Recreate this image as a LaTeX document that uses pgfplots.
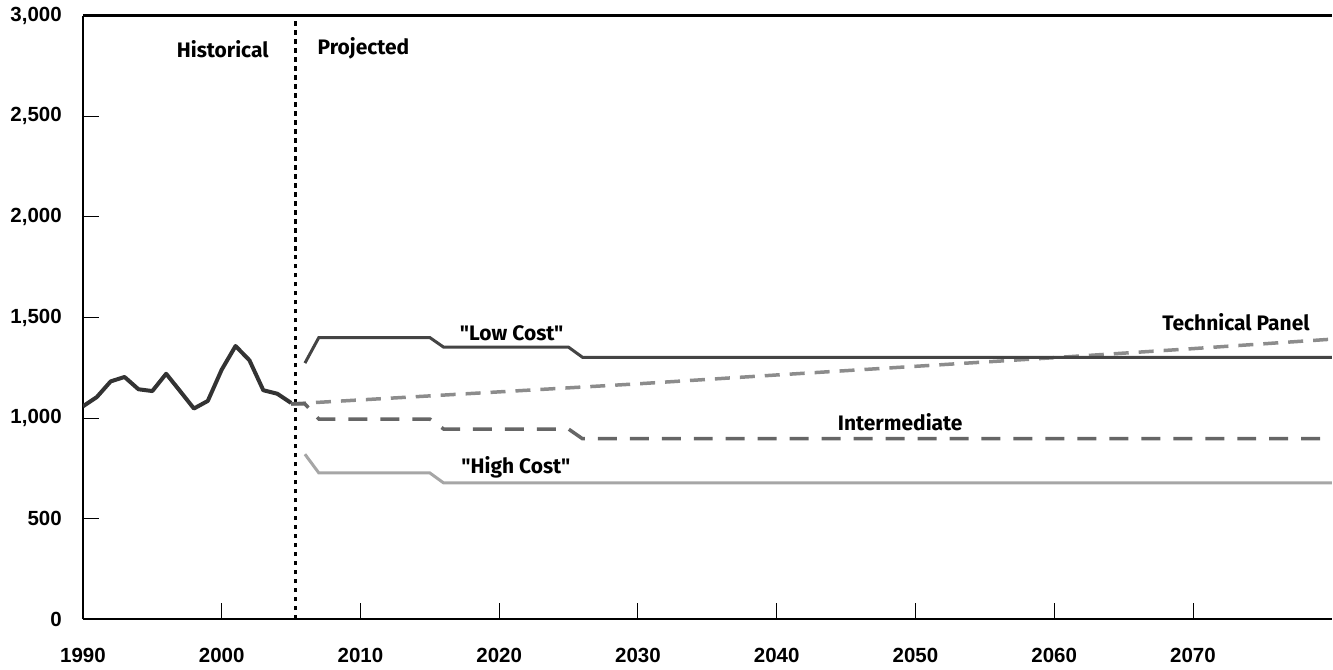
\documentclass[border=0pt]{standalone}
\usepackage{fontspec}
\setmainfont{Fira Sans}[Ligatures=TeXOff]
\newfontfamily\tickfont{Liberation Sans}[Ligatures=TeXOff]
\usepackage{pgfplots}
\pgfplotsset{compat=1.18}
\definecolor{histcol}{HTML}{333333}
\definecolor{lowcol}{HTML}{444444}
\definecolor{intercol}{HTML}{666666}
\definecolor{techcol}{HTML}{8C8C8C}
\definecolor{highcol}{HTML}{A6A6A6}
\begin{document}
\fontsize{21}{25}\selectfont
\begin{tikzpicture}
\begin{axis}[
  scale only axis, width=1250pt, height=604pt,
  xmin=1990, xmax=2080, ymin=0, ymax=3000,
  axis lines=left, axis line style={-, line width=2.5pt, black},
  clip mode=individual,
  xtick={1990,2000,...,2070},
  ytick={0,500,...,3000},
  tick align=inside,
  major tick length=16pt,
  tick style={line width=1pt, black},
  /pgf/number format/assume math mode=true,
  tick label style={font=\tickfont\fontsize{20.5}{24}\selectfont\bfseries},
  xticklabel style={/pgf/number format/1000 sep={}, yshift=-22pt},
  yticklabel style={/pgf/number format/.cd, fixed, 1000 sep={,}, /tikz/.cd, xshift=-14pt},
]
% top axis line
\draw[line width=2.5pt, black] (rel axis cs:0,1) -- (rel axis cs:1,1);
% bounding box
\path ([xshift=-83pt,yshift=-46pt]rel axis cs:0,0) rectangle ([yshift=15pt]rel axis cs:1,1);

% divider
\addplot[black, line width=3.2pt, dash pattern=on 4.5pt off 4.5pt] coordinates {(2005.3,0) (2005.3,3000)};

% Historical
\addplot[histcol, line width=4pt, line join=round] coordinates {
(1990,1058) (1991,1104) (1992,1182) (1993,1204) (1994,1143) (1995,1134)
(1996,1220) (1997,1134) (1998,1047) (1999,1085) (2000,1240) (2001,1358)
(2002,1287) (2003,1138) (2004,1121) (2005,1075)};

% Technical Panel
\addplot[techcol, line width=3.5pt, dash pattern=on 15pt off 10pt] coordinates {
(2005,1070) (2010,1090) (2020,1130) (2030,1170) (2040,1214) (2050,1257)
(2060,1300) (2070,1345) (2080,1392)};

% Intermediate
\addplot[intercol, line width=3.5pt, dash pattern=on 19pt off 13pt] coordinates {
(2005,1070) (2006,1070) (2007,995) (2015,995) (2016,945) (2025,945)
(2026,897) (2080,897)};

% Low Cost
\addplot[lowcol, line width=3pt] coordinates {
(2006,1273) (2007,1400) (2015,1400) (2016,1352) (2025,1352) (2026,1302) (2080,1302)};

% High Cost
\addplot[highcol, line width=3pt] coordinates {
(2006,820) (2007,727) (2015,727) (2016,677) (2080,677)};

\node[font=\bfseries, anchor=east] at (axis cs:2003.9,2836) {Historical};
\node[font=\bfseries, anchor=west] at (axis cs:2006.4,2836) {Projected};
\node[font=\bfseries] at (axis cs:2020.9,1421) {"Low Cost"};
\node[font=\bfseries] at (axis cs:2021.2,757) {"High Cost"};
\node[font=\bfseries] at (axis cs:2048.9,979) {Intermediate};
\node[font=\bfseries] at (axis cs:2073.1,1477) {Technical Panel};
\end{axis}
\end{tikzpicture}
\end{document}
